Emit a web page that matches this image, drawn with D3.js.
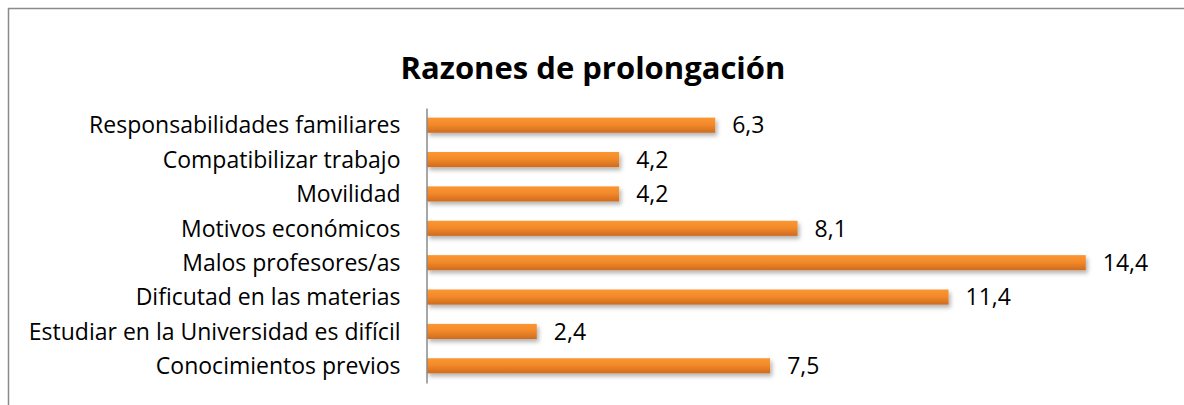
<!DOCTYPE html>
<html>
<head>
<meta charset="utf-8">
<script src="https://cdn.jsdelivr.net/npm/d3@7"></script>
<style>
  html, body { margin: 0; padding: 0; background: #fff; }
  svg { display: block; font-family: "Open Sans", Lato, sans-serif; }
</style>
</head>
<body>
<div id="chart"></div>
<script>
// categorías de arriba a abajo, tal como aparecen en el gráfico
var categories = [
  'Responsabilidades familiares',
  'Compatibilizar trabajo',
  'Movilidad',
  'Motivos económicos',
  'Malos profesores/as',
  'Dificutad en las materias',
  'Estudiar en la Universidad es difícil',
  'Conocimientos previos'
];
var values = [6.3, 4.2, 4.2, 8.1, 14.4, 11.4, 2.4, 7.5];
var valueLabels = ['6,3', '4,2', '4,2', '8,1', '14,4', '11,4', '2,4', '7,5'];
var title = 'Razones de prolongación';

var W = 1184, H = 405;
var FONT = '"Open Sans", Lato, sans-serif';
var svg = d3.select('#chart').append('svg').attr('width', W).attr('height', H);

// borde del área del gráfico (sale por la derecha y por abajo)
svg.append('rect').attr('x', 8.5).attr('y', 8.5).attr('width', W).attr('height', H)
  .attr('fill', '#fff').attr('stroke', '#8a8a8a').attr('stroke-width', 1.5);

var defs = svg.append('defs');
var grad = defs.append('linearGradient').attr('id', 'barGrad')
  .attr('x1', 0).attr('y1', 0).attr('x2', 0).attr('y2', 1);
grad.append('stop').attr('offset', '0%').attr('stop-color', '#fb9632');
grad.append('stop').attr('offset', '45%').attr('stop-color', '#f38a2b');
grad.append('stop').attr('offset', '100%').attr('stop-color', '#cf6b1e');

var shadow = defs.append('filter').attr('id', 'shadow')
  .attr('x', '-5%').attr('y', '-50%').attr('width', '115%').attr('height', '250%');
shadow.append('feDropShadow').attr('dx', 2).attr('dy', 3).attr('stdDeviation', 2)
  .attr('flood-color', '#000').attr('flood-opacity', 0.3);

svg.append('text').attr('x', 593).attr('y', 79).attr('text-anchor', 'middle')
  .attr('font-size', 31).attr('font-weight', 'bold').attr('fill', '#000')
  .attr('font-family', FONT)
  .text(title);

var x = d3.scaleLinear().domain([0, 1]).range([427, 427 + 45.75]);
var y = d3.scaleBand().domain(categories).range([108, 383]).paddingInner(0.56).paddingOuter(0.28);

var g = svg.append('g');
g.selectAll('rect.bar').data(values).enter().append('rect')
  .attr('class', 'bar')
  .attr('x', x(0))
  .attr('y', function (d, i) { return y(categories[i]); })
  .attr('width', function (d) { return x(d) - x(0); })
  .attr('height', y.bandwidth())
  .attr('fill', 'url(#barGrad)')
  .attr('filter', 'url(#shadow)');

g.selectAll('text.val').data(values).enter().append('text')
  .attr('class', 'val')
  .attr('x', function (d) { return x(d) + 17; })
  .attr('y', function (d, i) { return y(categories[i]) + y.bandwidth() / 2; })
  .attr('dy', '0.36em')
  .attr('font-size', 23).attr('fill', '#000').attr('font-family', FONT)
  .text(function (d, i) { return valueLabels[i]; });

// eje vertical con etiquetas de categoría
var axis = svg.append('g').attr('transform', 'translate(' + 426.5 + ',0)')
  .call(d3.axisLeft(y).tickSize(0).tickPadding(26));
axis.select('.domain').attr('stroke', '#8a8a8a').attr('stroke-width', 1.5);
axis.selectAll('text').attr('font-size', 23).attr('fill', '#000')
  .attr('dy', '0.36em').attr('font-family', FONT);
</script>
</body>
</html>
